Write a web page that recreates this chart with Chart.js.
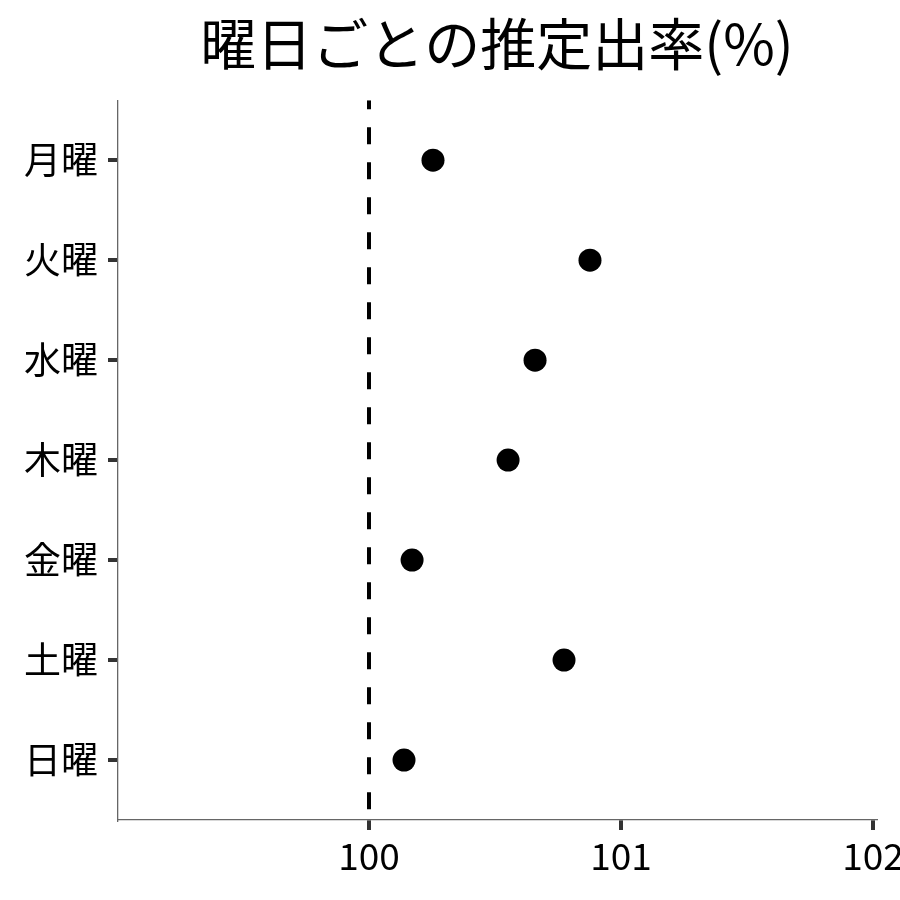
<!DOCTYPE html>
<html>
<head>
<meta charset="utf-8">
<script src="https://cdn.jsdelivr.net/npm/chart.js@4"></script>
<style>
  html, body { margin: 0; padding: 0; background: #fff; }
  #wrap { width: 900px; height: 900px; }
</style>
</head>
<body>
<div id="wrap"><canvas id="chart"></canvas></div>
<script>
const days = ["月曜", "火曜", "水曜", "木曜", "金曜", "土曜", "日曜"];
const rates = [100.254, 100.877, 100.659, 100.552, 100.171, 100.774, 100.139];
const xTicks = [100, 101, 102];
const refValue = 100;

const FONT = "'Noto Sans CJK JP', 'Noto Sans', sans-serif";
const yMin = 0.4, yMax = days.length + 0.6;

new Chart(document.getElementById("chart"), {
  type: "scatter",
  data: {
    datasets: [
      {
        // dashed reference line at 100
        data: [{ x: refValue, y: yMin }, { x: refValue, y: yMax }],
        showLine: true,
        borderColor: "#000",
        borderWidth: 4,
        borderDash: [17, 18],
        borderDashOffset: 8,
        pointRadius: 0,
        order: 2,
      },
      {
        data: days.map((d, i) => ({ x: rates[i], y: i + 1 })),
        backgroundColor: "#000",
        borderColor: "#000",
        pointRadius: 11.5,
        pointBorderWidth: 0,
        order: 1,
      },
    ],
  },
  options: {
    responsive: true,
    maintainAspectRatio: false,
    animation: false,
    layout: { padding: 0 },
    plugins: {
      legend: { display: false },
      tooltip: { enabled: false },
      title: {
        display: true,
        text: "曜日ごとの推定出率(%)",
        fullSize: false,
        color: "#000",
        font: { family: FONT, size: 56, weight: "normal" },
        padding: { top: 10, bottom: 23 },
      },
    },
    scales: {
      x: {
        type: "linear",
        min: 99.004,
        max: 102.012,
        afterBuildTicks: (s) => { s.ticks = xTicks.map(v => ({ value: v })); },
        afterFit: (s) => { s.height = 80; s.paddingRight = 24; s.paddingLeft = 0; },
        border: { display: true, color: "#666", width: 1.3 },
        grid: { drawOnChartArea: false, drawTicks: true, tickLength: 10, color: "#333", lineWidth: 4, tickWidth: 4, tickColor: "#333" },
        ticks: {
          color: "#000",
          padding: 4,
          maxRotation: 0,
          font: { family: FONT, size: 37 },
          callback: (v) => String(v),
        },
      },
      y: {
        type: "linear",
        reverse: true,
        min: yMin,
        max: yMax,
        afterBuildTicks: (s) => { s.ticks = days.map((d, i) => ({ value: i + 1 })); },
        afterFit: (s) => { s.width = 118; },
        border: { display: true, color: "#666", width: 1.3 },
        grid: { drawOnChartArea: false, drawTicks: true, tickLength: 10, color: "#333", lineWidth: 4, tickWidth: 4, tickColor: "#333" },
        ticks: {
          color: "#000",
          padding: 10,
          font: { family: FONT, size: 37 },
          callback: (v) => days[Math.round(v) - 1] || "",
        },
      },
    },
  },
});
</script>
</body>
</html>
